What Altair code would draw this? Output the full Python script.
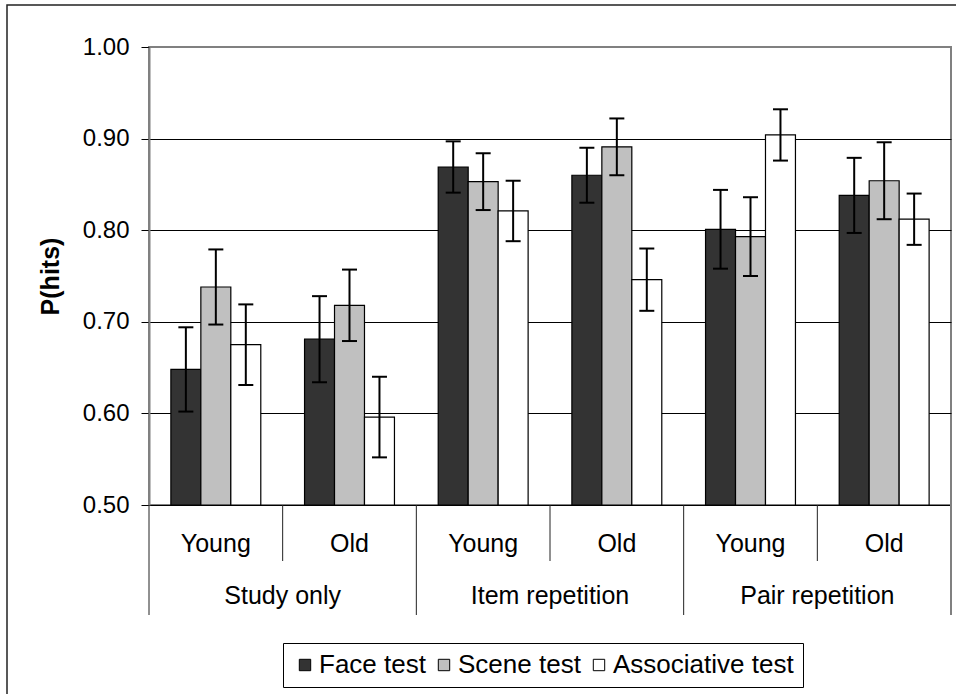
import altair as alt
import pandas as pd

groups = ["Study only", "Item repetition", "Pair repetition"]
ages = ["Young", "Old"]
tests = ["Face test", "Scene test", "Associative test"]
colors = ["#333333", "#c0c0c0", "#ffffff"]

face = [0.648, 0.681, 0.869, 0.860, 0.801, 0.838]
face_err = [0.046, 0.047, 0.028, 0.030, 0.043, 0.041]
scene = [0.738, 0.718, 0.853, 0.891, 0.793, 0.854]
scene_err = [0.041, 0.039, 0.031, 0.031, 0.043, 0.042]
assoc = [0.675, 0.596, 0.821, 0.746, 0.904, 0.812]
assoc_err = [0.044, 0.044, 0.033, 0.034, 0.028, 0.028]

y_ticks = [0.5, 0.6, 0.7, 0.8, 0.9, 1.0]

cats = [f"{g}|{a}" for g in groups for a in ages]

rows = []
for series, errs, t in [(face, face_err, tests[0]), (scene, scene_err, tests[1]), (assoc, assoc_err, tests[2])]:
    for i, c in enumerate(cats):
        rows.append({"cat": c, "test": t, "value": series[i],
                     "lo": series[i] - errs[i], "hi": series[i] + errs[i]})
df = pd.DataFrame(rows)

cat_df = pd.DataFrame({"cat": cats,
                       "group": [c.split("|")[0] for c in cats],
                       "age": [c.split("|")[1] for c in cats]})
young_df = cat_df[cat_df["age"] == "Young"]
old_df = cat_df[cat_df["age"] == "Old"]
last_df = cat_df.tail(1)

FONT = "Liberation Sans"
band = 802 / 6

xscale = alt.Scale(paddingInner=0, paddingOuter=0)
X = lambda **kw: alt.X("cat:N", sort=cats, scale=xscale, axis=None, **kw)

yscale = alt.Scale(domain=[0.5, 1.0], zero=False, nice=False)

frame = alt.Chart(alt.Data(values=[{}])).mark_rect(
    filled=False, stroke="#222222", strokeWidth=1.5
).encode(x=alt.value(-142), y=alt.value(-42), x2=alt.value(815), y2=alt.value(660))

bars = alt.Chart(df).mark_bar(stroke="black", strokeWidth=1.2, opacity=1).encode(
    x=alt.X("cat:N", sort=cats, scale=xscale,
            axis=alt.Axis(labels=False, ticks=False, title=None, domainColor="black",
                          domainWidth=1.5, grid=False)),
    xOffset=alt.XOffset("test:N", sort=tests, scale=alt.Scale(paddingInner=0, paddingOuter=0.73)),
    y=alt.Y("value:Q", scale=yscale,
            axis=alt.Axis(values=y_ticks, format=".2f", title="P(hits)",
                          titleFontSize=25, titleFontWeight="bold", titleColor="black",
                          titleAngle=-90, titleX=-99, titleY=229, titleBaseline="middle",
                          titleAlign="center",
                          labelFontSize=24, labelColor="black", labelPadding=12,
                          tickSize=8, tickColor="black", tickWidth=1,
                          domainColor="#808080", domainWidth=2,
                          grid=True, gridWidth=1,
                          gridColor=alt.condition("datum.value >= 1", alt.value("#808080"), alt.value("black")))),
    y2=alt.datum(0.5),
    fill=alt.Fill("test:N", sort=tests, scale=alt.Scale(domain=tests, range=colors),
                  legend=alt.Legend(orient="none", legendX=134, legendY=596,
                                    direction="horizontal", columns=3, title=None,
                                    symbolType="square", symbolSize=130,
                                    symbolStrokeColor="black", symbolStrokeWidth=1,
                                    symbolOpacity=1,
                                    labelFontSize=26, labelColor="black", labelOffset=1,
                                    labelLimit=400, columnPadding=5, padding=9,
                                    strokeColor="black", fillColor="white")),
)

err_rule = alt.Chart(df).mark_rule(color="black", strokeWidth=2).encode(
    x=X(), xOffset=alt.XOffset("test:N", sort=tests), y=alt.Y("lo:Q", scale=yscale), y2="hi:Q"
)
cap_hi = alt.Chart(df).mark_tick(color="black", orient="horizontal", size=15, thickness=2, opacity=1).encode(
    x=X(), xOffset=alt.XOffset("test:N", sort=tests), y=alt.Y("hi:Q", scale=yscale)
)
cap_lo = alt.Chart(df).mark_tick(color="black", orient="horizontal", size=15, thickness=2, opacity=1).encode(
    x=X(), xOffset=alt.XOffset("test:N", sort=tests), y=alt.Y("lo:Q", scale=yscale)
)

short_sep = alt.Chart(old_df).mark_rule(color="#222222", strokeWidth=1).encode(
    x=X(bandPosition=0), y=alt.value(458), y2=alt.value(514)
)
long_sep = alt.Chart(young_df).mark_rule(color="#222222", strokeWidth=1).encode(
    x=X(bandPosition=0), y=alt.value(458), y2=alt.value(568)
)
end_sep = alt.Chart(last_df).mark_rule(color="#808080", strokeWidth=2).encode(
    x=X(bandPosition=1), y=alt.value(458), y2=alt.value(568)
)

age_text = alt.Chart(cat_df).mark_text(fontSize=25, font=FONT, color="black", baseline="alphabetic").encode(
    x=X(), y=alt.value(505), text="age:N"
)
group_text = alt.Chart(young_df).mark_text(fontSize=25, font=FONT, color="black", baseline="alphabetic",
                                           dx=band / 2).encode(
    x=X(), y=alt.value(557), text="group:N"
)

chart = alt.layer(frame, bars, err_rule, cap_hi, cap_lo, short_sep, long_sep, end_sep,
                  age_text, group_text).properties(
    width=802, height=458,
    padding={"left": 149, "top": 47, "right": 5, "bottom": 189},
    autosize=alt.AutoSizeParams(type="none"),
    background="white",
).configure(font=FONT).configure_view(stroke="#808080", strokeWidth=2)

chart.save("out.html", embed_options={"renderer": "svg", "actions": False})
